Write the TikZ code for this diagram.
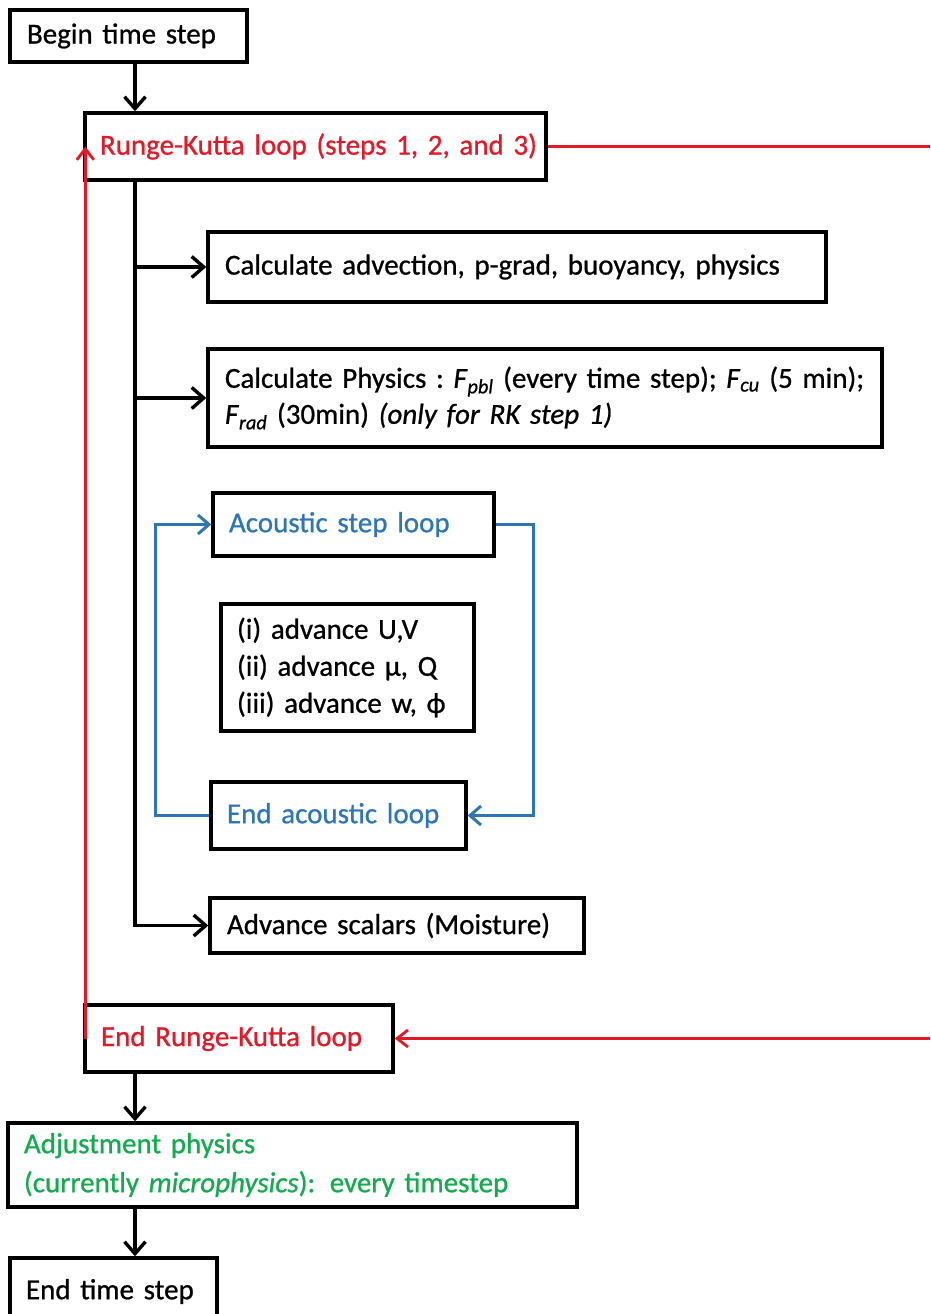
\documentclass[tikz,border=0pt]{standalone}
\usepackage{fontspec}
\setmainfont{Carlito}[FakeBold=0.8]
\usetikzlibrary{arrows.meta}
\definecolor{rkred}{RGB}{225,25,40}
\definecolor{acblue}{RGB}{46,117,182}
\definecolor{adjgreen}{RGB}{20,170,80}
\tikzset{
  box/.style={draw=black, line width=3.4pt, rectangle, align=left, inner xsep=0pt, inner ysep=0pt,
    font=\fontsize{29}{36}\selectfont\addfontfeature{FakeBold=0.8}, anchor=center},
  flow/.style={line width=3.4pt, -{Straight Barb[length=12pt,width=21pt,line width=3.4pt]}},
  redline/.style={draw=rkred, line width=2.8pt},
  redarrow/.style={redline, -{Straight Barb[length=11pt,width=17pt,line width=2.8pt]}},
  bluearrow/.style={draw=acblue, line width=3pt, -{Straight Barb[length=11pt,width=19pt,line width=3pt]}},
}
\newcommand{\Fsub}[1]{\textit{F}\textsubscript{\textit{#1}}}
\begin{document}
\begin{tikzpicture}[x=1pt,y=-1pt]
\useasboundingbox (0,0) rectangle (930,1314);
\clip (0,0) rectangle (930,1314);
% boxes: center, width, height; text width = width - 2*left pad
\node[box, minimum width=237pt, minimum height=52pt, text width=203pt] (begin) at (128.5,36) {Begin time step};
\node[box, minimum width=461pt, minimum height=67pt, text width=431pt, text=rkred] (rk) at (315.5,146.5) {\mbox{Runge-Kutta loop (steps 1, 2, and 3)}};
\node[box, minimum width=618pt, minimum height=70pt, text width=584pt] (adv) at (517,267) {Calculate advection, p-grad, buoyancy, physics};
\node[box, minimum width=674pt, minimum height=98pt, text width=640pt] (phys) at (545,398) {Calculate Physics :\ \Fsub{pbl} (every time step);\ \Fsub{cu} (5 min);\\ \Fsub{rad} (30min) \textit{(only for\ RK step 1)}};
\node[box, minimum width=281pt, minimum height=63pt, text width=249pt, text=acblue] (ac) at (353.5,524.5) {Acoustic step loop};
\node[box, minimum width=253pt, minimum height=127pt, text width=221pt, font=\fontsize{29}{37}\selectfont\addfontfeature{FakeBold=0.8}] (inner) at (347.5,667.5) {(i) advance U,V\\ (ii) advance µ, Q\\ (iii) advance w, ϕ};
\node[box, minimum width=255pt, minimum height=67pt, text width=223pt, text=acblue] (endac) at (338.5,815.5) {End acoustic loop};
\node[box, minimum width=374pt, minimum height=55pt, text width=340pt] (scal) at (397,925.5) {Advance scalars (Moisture)};
\node[box, minimum width=308pt, minimum height=67pt, text width=276pt, text=rkred] (endrk) at (239,1038.5) {End Runge-Kutta loop};
\node[box, minimum width=569pt, minimum height=84pt, text width=537pt, text=adjgreen, font=\fontsize{29}{39}\selectfont\addfontfeature{FakeBold=0.8}] (adj) at (292.5,1165) {Adjustment physics\\ (currently \textit{microphysics}): every timestep};
\node[box, minimum width=207pt, minimum height=67pt, text width=175pt] (endts) at (113.5,1291.5) {End time step};
% helper coordinates
\coordinate (tx) at (135,0);
\coordinate (bl) at (155,0);
\coordinate (br) at (533,0);
\coordinate (rr) at (935,0);
% black flow
\draw[flow] (begin.south -| tx) -- (rk.north -| tx);
\draw[line width=3.4pt] (rk.south -| tx) -- (tx |- scal.west);
\draw[flow] (tx |- adv.west) -- (adv.west);
\draw[flow] (tx |- phys.west) -- (phys.west);
\draw[flow] ([xshift=-1.7pt]tx |- scal.west) -- (scal.west);
\draw[flow] (endrk.south -| tx) -- (adj.north -| tx);
\draw[flow] (adj.south -| tx) -- (endts.north -| tx);
% blue acoustic loop
\draw[bluearrow] (endac.west) -- (bl |- endac.west) -- (bl |- ac.west) -- (ac.west);
\draw[bluearrow] (ac.east) -- (br |- ac.east) -- (br |- endac.east) -- (endac.east);
% red Runge-Kutta loop
\draw[redline] (rk.east) -- (rr |- rk.east);
\draw[redarrow] (rr |- endrk.east) -- (endrk.east);
\draw[redarrow] ([xshift=2pt]endrk.west) -- ([xshift=2pt]rk.west);
\end{tikzpicture}
\end{document}
